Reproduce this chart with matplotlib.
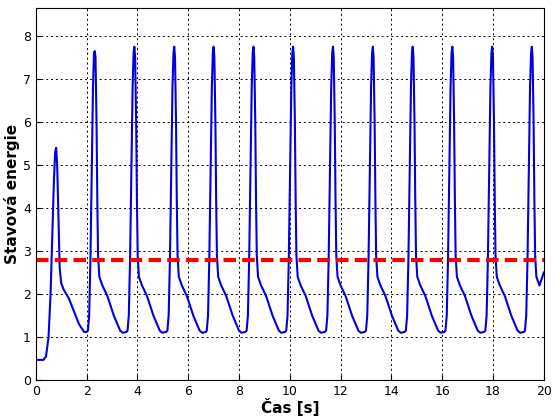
import matplotlib
matplotlib.use("Agg")
import matplotlib.pyplot as plt
import numpy as np

# first (start-up) segment
t0 = [0.0, 0.3, 0.4, 0.5, 0.58, 0.65, 0.71, 0.76, 0.8, 0.84, 0.89, 0.94, 1.0, 1.1, 1.3, 1.5, 1.7, 1.9, 2.0]
y0 = [0.47, 0.47, 0.55, 1.0, 2.0, 3.4, 4.6, 5.3, 5.4, 5.0, 3.8, 2.6, 2.25, 2.1, 1.9, 1.6, 1.3, 1.12, 1.12]
# subsequent spike peak times
peaks = [2.32, 3.88, 5.45, 7.0, 8.57, 10.13, 11.7, 13.27, 14.84, 16.4, 17.97, 19.53]
peak_vals = [7.65, 7.75, 7.75, 7.75, 7.75, 7.75, 7.75, 7.75, 7.75, 7.75, 7.75, 7.75]
# shape of one cycle relative to its peak
rel_t = [-0.27, -0.22, -0.17, -0.12, -0.07, -0.03, 0.0, 0.03, 0.07, 0.1, 0.13, 0.18, 0.3, 0.5, 0.75, 1.0, 1.1, 1.25]
rel_y = [1.15, 1.5, 2.8, 4.8, 6.8, 7.6, 1.0, 7.5, 6.0, 4.2, 2.9, 2.4, 2.2, 1.95, 1.5, 1.15, 1.1, 1.12]
threshold = 2.8

t = list(t0); y = list(y0)
for p, pv in zip(peaks, peak_vals):
    for rt, ry in zip(rel_t, rel_y):
        tt = p + rt
        if tt <= t[-1] or tt > 20:
            continue
        t.append(tt)
        y.append(pv if rt == 0.0 else ry)
t.append(20.0); y.append(2.5)

fig = plt.figure(figsize=(5.6, 4.2), dpi=100)
ax = fig.add_axes([0.064, 0.095, 0.907, 0.886])
ax.plot(t, y, color="#0000e0", lw=1.5)
ax.axhline(threshold, color="red", lw=3, ls=(0, (3, 1.5)))
ax.set_xlim(0, 20); ax.set_ylim(0, 8.65)
ax.set_xticks(range(0, 21, 2)); ax.set_yticks(range(0, 9))
ax.grid(True, color="black", ls=(0, (2, 3)), lw=0.7)
ax.tick_params(labelsize=9, direction="in")
ax.set_xlabel("Čas [s]", fontsize=11, fontweight="bold", labelpad=0)
ax.set_ylabel("Stavová energie", fontsize=11, fontweight="bold", labelpad=2)
fig.savefig("out.png")
